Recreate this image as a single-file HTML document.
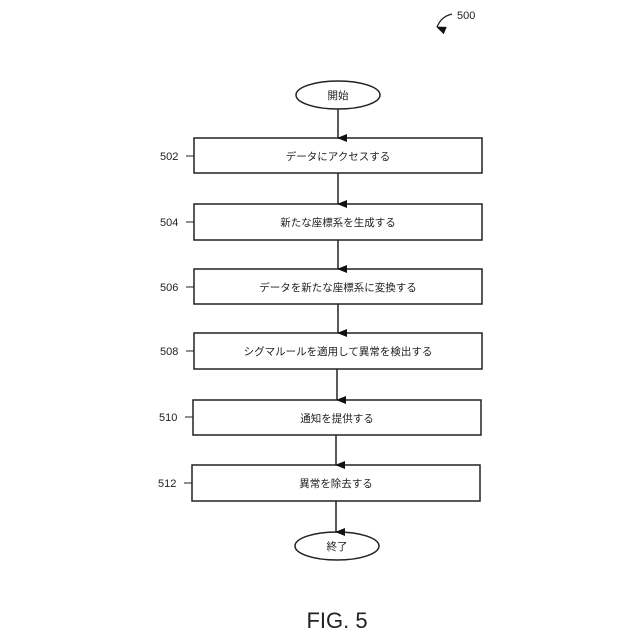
<!DOCTYPE html>
<html><head><meta charset="utf-8"><style>
html,body{margin:0;padding:0;background:#fff;}
svg{display:block;}
text{font-family:"Liberation Sans","Noto Sans CJK JP",sans-serif;fill:#222;}
</style></head><body>
<svg width="640" height="640" viewBox="0 0 640 640" xmlns="http://www.w3.org/2000/svg">
<defs><marker id="a" markerWidth="8" markerHeight="10" refX="4" refY="9" orient="auto" markerUnits="userSpaceOnUse"><path d="M0,0 L8,0 L4,10 Z" fill="#111"/></marker></defs>
<g stroke="#222" stroke-width="1.5" fill="none">
<path d="M452,14 C444,16 440,20 437,27" marker-end="url(#a)" stroke-width="1.2"/>
<ellipse cx="338" cy="95" rx="42" ry="14"/>
<rect x="194" y="138" width="288" height="35"/>
<rect x="194" y="204" width="288" height="36"/>
<rect x="194" y="269" width="288" height="35"/>
<rect x="194" y="333" width="288" height="36"/>
<rect x="193" y="400" width="288" height="35"/>
<rect x="192" y="465" width="288" height="36"/>
<ellipse cx="337" cy="546" rx="42" ry="14"/>
<line x1="338" y1="109" x2="338" y2="138" marker-end="url(#a)"/>
<line x1="338" y1="173" x2="338" y2="204" marker-end="url(#a)"/>
<line x1="338" y1="240" x2="338" y2="269" marker-end="url(#a)"/>
<line x1="338" y1="304" x2="338" y2="333" marker-end="url(#a)"/>
<line x1="337" y1="369" x2="337" y2="400" marker-end="url(#a)"/>
<line x1="336" y1="435" x2="336" y2="465" marker-end="url(#a)"/>
<line x1="336" y1="501" x2="336" y2="532" marker-end="url(#a)"/>
<g stroke-width="1">
<path d="M186,156 L194,156"/><path d="M186,222 L194,222"/><path d="M186,287 L194,287"/>
<path d="M186,351 L194,351"/><path d="M185,417 L193,417"/><path d="M184,483 L192,483"/>
</g>
</g>
<g font-size="10.5" text-anchor="middle">
<text x="338" y="99">開始</text>
<text x="338" y="160">データにアクセスする</text>
<text x="338" y="226">新たな座標系を生成する</text>
<text x="338" y="291">データを新たな座標系に変換する</text>
<text x="338" y="355">シグマルールを適用して異常を検出する</text>
<text x="337" y="422">通知を提供する</text>
<text x="336" y="487">異常を除去する</text>
<text x="337" y="550">終了</text>
</g>
<g font-size="11" text-anchor="start">
<text x="160" y="160">502</text><text x="160" y="226">504</text><text x="160" y="291">506</text>
<text x="160" y="355">508</text><text x="159" y="421">510</text><text x="158" y="487">512</text>
<text x="457" y="19">500</text>
</g>
<text x="337" y="628" font-size="22" text-anchor="middle">FIG. 5</text>
</svg>
</body></html>
